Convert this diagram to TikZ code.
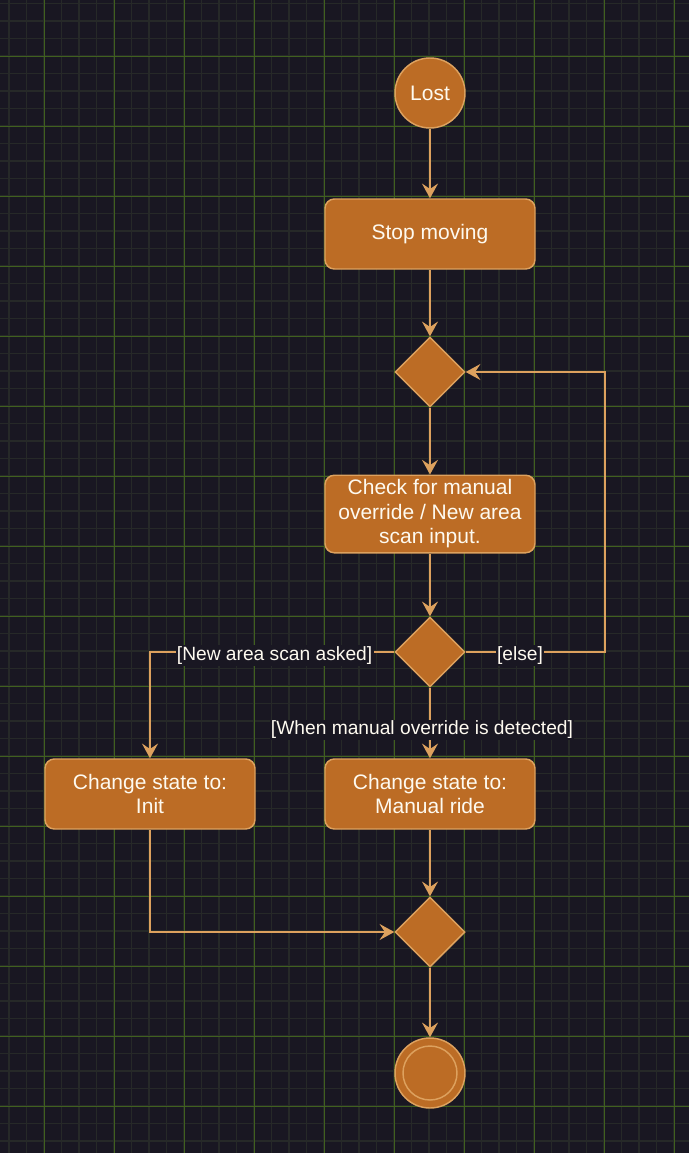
\documentclass[tikz,border=0pt]{standalone}
\usepackage{fontspec}
\setmainfont{Liberation Sans}
\usetikzlibrary{arrows.meta, shapes.geometric}
\definecolor{figBg}{RGB}{25,23,34}
\definecolor{figMinor}{RGB}{38,41,40}
\definecolor{figMajor}{RGB}{64,96,31}
\definecolor{figFill}{RGB}{188,108,37}
\definecolor{figEdge}{RGB}{221,161,94}
\definecolor{figTxt}{RGB}{254,250,240}
\tikzset{
  minorline/.style={figMinor, line width=1pt},
  majorline/.style={figMajor, line width=0.75pt},
  actbox/.style={rectangle, rounded corners=7pt, draw=figEdge, fill=figFill, line width=1.1pt,
    minimum width=157.5pt, minimum height=52.5pt, align=center, text=figTxt,
    font=\fontsize{15.75}{18.4}\selectfont},
  startnode/.style={circle, draw=figEdge, fill=figFill, line width=1.1pt, minimum size=52.5pt,
    inner sep=0pt, text=figTxt, font=\fontsize{15.75}{18.4}\selectfont},
  decision/.style={diamond, draw=figEdge, fill=figFill, line width=1.1pt, minimum width=52.5pt,
    minimum height=52.5pt, inner sep=0pt},
  flow/.style={draw=figEdge, line width=1.3pt, -{Stealth[length=11pt, width=12pt, inset=4pt]}},
  lbl/.style={fill=figBg, text=figTxt, inner sep=1pt, yshift=-2.5pt, font=\fontsize{14.4}{17}\selectfont}
}

\begin{document}
\begin{tikzpicture}[x=0.75pt, y=-0.75pt]
% page and grid
\useasboundingbox (0,0) rectangle (689,1153);
\fill[figBg] (0,0) rectangle (689,1153);
\foreach \gx in {9,26.5,...,689} \draw[minorline] (\gx,0) -- (\gx,1153);
\foreach \gy in {3.5,21,...,1153} \draw[minorline] (0,\gy) -- (689,\gy);
\foreach \gx in {44,114,...,689} \draw[majorline] (\gx,0) -- (\gx,1153);
\foreach \gy in {56,126,...,1153} \draw[majorline] (0,\gy) -- (689,\gy);
% activity nodes
\node[startnode] (lost) at (430,93) {Lost};
\node[actbox] (stop) at (430,234) {Stop moving};
\node[decision] (merge) at (430,372) {};
\node[actbox] (check) at (430,514) {Check for manual\\override / New area\\scan input.};
\node[decision] (choice) at (430,652) {};
\node[actbox] (init) at (150,794) {Change state to:\\Init};
\node[actbox] (manual) at (430,794) {Change state to:\\Manual ride};
\node[decision] (join) at (430,932) {};
\node[startnode] (final) at (430,1073) {};
\node[circle, draw=figEdge, line width=1.1pt, minimum size=40.5pt] (finalin) at (final) {};
\coordinate (elsecorner) at (605,652);
% flows
\draw[flow] (lost) -- (stop);
\draw[flow] (stop) -- (merge);
\draw[flow] (merge) -- (check);
\draw[flow] (check) -- (choice);
\draw[flow] (choice.west) -| node[lbl, pos=0.245] {[New area scan asked]} (init.north);
\draw[flow] (choice.east) -- node[lbl, pos=0.39] {[else]} (elsecorner) |- (merge.east);
\draw[flow] (choice.south) -- node[lbl, pos=0.55, xshift=-6pt] {[When manual override is detected]} (manual.north);
\draw[flow] (manual) -- (join);
\draw[flow] (init.south) |- (join.west);
\draw[flow] (join) -- (final);
\end{tikzpicture}
\end{document}
